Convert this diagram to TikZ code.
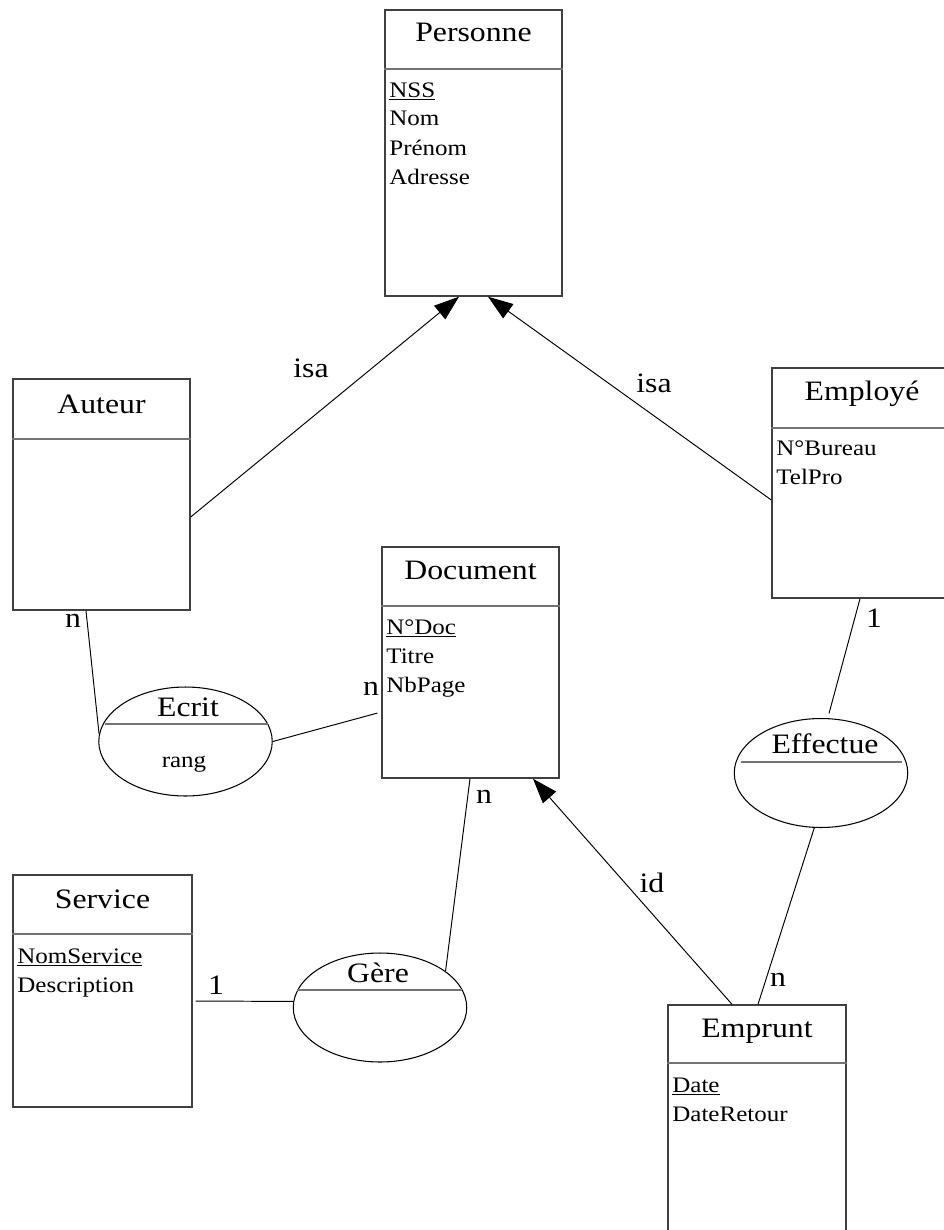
\documentclass[tikz,border=0pt]{standalone}
\usepackage{fontspec}
\setmainfont[FakeStretch=1.13]{Liberation Serif}
\usetikzlibrary{shapes.geometric,arrows.meta,fit,calc}

\tikzset{
  entity/.style={draw=black!75, line width=0.8pt, inner sep=0pt},
  divider/.style={draw=black!55, line width=1.1pt},
  relation/.style={draw, ellipse, line width=0.6pt, inner sep=0pt,
    minimum width=3.47cm, minimum height=2.18cm},
  title/.style={font=\fontsize{16pt}{19pt}\selectfont, anchor=base, inner sep=0pt},
  attr/.style={font=\fontsize{12.6pt}{15pt}\selectfont, anchor=base west, inner sep=0pt},
  card/.style={font=\fontsize{16pt}{19pt}\selectfont, inner sep=0pt},
  link/.style={line width=0.55pt},
  isa/.style={link, -{Triangle[length=0.5cm,width=0.35cm]}}
}

\begin{document}
\begin{tikzpicture}[x=0.02cm, y=-0.02cm]
\useasboundingbox (0,0) rectangle (943,1230);

% Entities
\node[entity, fit={(385,10) (562,296)}] (personne) {};
\node[entity, fit={(13,379) (190,610)}] (auteur) {};
\node[entity, fit={(772,368) (946,598)}] (employe) {};
\node[entity, fit={(382,547) (559,778)}] (document) {};
\node[entity, fit={(13,875) (192,1107)}] (service) {};
\node[entity, fit={(668,1005) (846,1234)}] (emprunt) {};

\draw[divider] (personne.west |- 0,69) -- (personne.east |- 0,69);
\draw[divider] (auteur.west |- 0,439) -- (auteur.east |- 0,439);
\draw[divider] (employe.west |- 0,428) -- (employe.east |- 0,428);
\draw[divider] (document.west |- 0,606) -- (document.east |- 0,606);
\draw[divider] (service.west |- 0,934) -- (service.east |- 0,934);
\draw[divider] (emprunt.west |- 0,1063) -- (emprunt.east |- 0,1063);

\node[title] (personne-name) at (personne.north |- 0,42) {Personne};
\node[title] (auteur-name) at (auteur.north |- 0,413) {Auteur};
\node[title] (employe-name) at (862,400) {Employé};
\node[title] (document-name) at (document.north |- 0,579) {Document};
\node[title] (service-name) at (service.north |- 0,908) {Service};
\node[title] (emprunt-name) at (emprunt.north |- 0,1037) {Emprunt};

% Attributes
\foreach \a [count=\i from 0] in {\underline{NSS},Nom,Prénom,Adresse}
  \node[attr] (personne-attr\i) at (389,{97+29*\i}) {\a};
\foreach \a [count=\i from 0] in {N°Bureau,TelPro}
  \node[attr] (employe-attr\i) at (776,{455+29*\i}) {\a};
\foreach \a [count=\i from 0] in {\underline{N°Doc},Titre,NbPage}
  \node[attr] (document-attr\i) at (386,{634+29*\i}) {\a};
\foreach \a [count=\i from 0] in {\underline{NomService},Description}
  \node[attr] (service-attr\i) at (17,{963+29*\i}) {\a};
\foreach \a [count=\i from 0] in {\underline{Date},DateRetour}
  \node[attr] (emprunt-attr\i) at (672,{1092+29*\i}) {\a};

% Relations
\node[relation] (ecrit) at (185.5,741.5) {};
\node[relation] (effectue) at (821,773) {};
\node[relation] (gere) at (380,1007.5) {};

\draw[divider] (105,724) -- (268,724);
\draw[divider] (741,762) -- (902,762);
\draw[divider] (297,990) -- (462,990);

\node[title] (ecrit-name) at (188,716) {Ecrit};
\node[attr, anchor=base] (ecrit-attr) at (184,767) {rang};
\node[title] (effectue-name) at (825,753) {Effectue};
\node[title] (gere-name) at (378,982) {Gère};

% Links
\draw[isa] (auteur.east |- 0,517) -- (personne.south -| 459,0);
\draw[isa] (employe.west |- 0,500) -- (personne.south -| 488,0);
\draw[isa] (emprunt.north -| 732,0) -- (document.south -| 533,0);
\draw[link] (auteur.south -| 86,0) -- (ecrit.175);
\draw[link, shorten >=0.08cm] (ecrit.east) -- (document.west |- 0,712);
\draw[link] (document.south -| 470,0) -- (gere.29);
\draw[link, shorten <=0.06cm] (service.east |- 0,1001) -- (gere.176);
\draw[link, shorten >=0.1cm] (employe.south -| 860,0) -- (effectue.83);
\draw[link] (effectue.263) -- (emprunt.north -| 758,0);

% Cardinalities
\node[card] (isa-left) at (311,368) {isa};
\node[card] (isa-right) at (654,383) {isa};
\node[card] (card-auteur) at (73,621) {n};
\node[card] (card-document) at (371,689) {n};
\node[card] (card-gere) at (484,797) {n};
\node[card] (card-service) at (216,985) {1};
\node[card] (card-employe) at (874,618) {1};
\node[card] (card-emprunt) at (778,980) {n};
\node[card] (id-label) at (652,883) {id};
\end{tikzpicture}
\end{document}
